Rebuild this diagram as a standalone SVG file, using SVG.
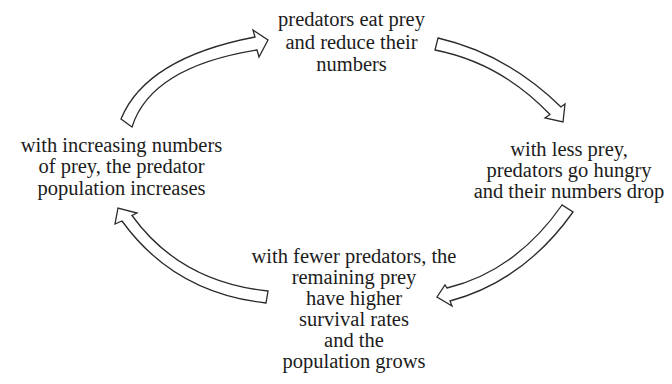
<svg xmlns="http://www.w3.org/2000/svg" width="672" height="384" viewBox="0 0 672 384">
<style>
text{font-family:'Liberation Serif','Times New Roman','DejaVu Serif',serif;font-size:20.5px;fill:#1c1c1c;text-anchor:middle}
.a{fill:#fff;stroke:#2a2a2a;stroke-width:1.3;stroke-linejoin:miter}
</style>
<rect width="672" height="384" fill="#fff"/>
<g id="node-top" font-family="Liberation Serif, serif">
<text x="351.5" y="26">predators eat prey</text>
<text x="351.5" y="48.5">and reduce their</text>
<text x="351.5" y="71">numbers</text>
</g>
<g id="node-right" font-family="Liberation Serif, serif">
<text x="569" y="155.5">with less prey,</text>
<text x="569" y="176.5">predators go hungry</text>
<text x="569" y="197.5">and their numbers drop</text>
</g>
<g id="node-bottom" font-family="Liberation Serif, serif">
<text x="354" y="263">with fewer predators, the</text>
<text x="354" y="284">remaining prey</text>
<text x="354" y="305">have higher</text>
<text x="354" y="326">survival rates</text>
<text x="354" y="347">and the</text>
<text x="354" y="368">population grows</text>
</g>
<g id="node-left" font-family="Liberation Serif, serif">
<text x="121.5" y="151.5">with increasing numbers</text>
<text x="121.5" y="173">of prey, the predator</text>
<text x="121.5" y="194.5">population increases</text>
</g>
<g id="connectors">
<path class="a" d="M121,119 Q146,58 255,37 L253,30 L268,40 L259,57 L257,50 Q151,67 132,127 Z"/>
<path class="a" d="M438,38 Q507,54 561,107 L565,104 L563,122 L545,118 L550,114.5 Q501,63 435,50 Z"/>
<path class="a" d="M562,205 Q516,271 447,288 L445,285 L437,297 L452,306 L450,301 Q524,281 573,212 Z"/>
<path class="a" d="M132,215.5 Q180,282 268,291 L266,303 Q174,293 122,221 L115,224 L118,208 L137,213 Z"/>
</g>
</svg>
